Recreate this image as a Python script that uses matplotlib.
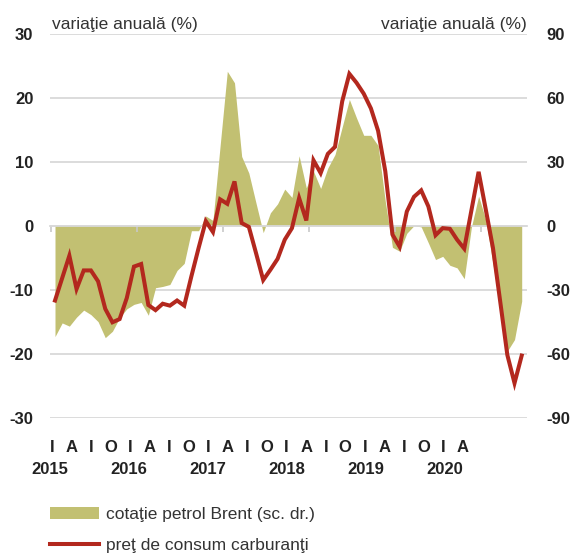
import matplotlib
matplotlib.use("Agg")
import matplotlib.pyplot as plt
import numpy as np

plt.rcParams['font.family'] = ['Liberation Sans', 'DejaVu Sans']
plt.rcParams['axes.unicode_minus'] = False

# Monthly data, Jan 2015 - Jun 2020
months = np.arange(66)

# pret de consum carburanti, variatie anuala (%) - scala stanga
fuel = [-11.7, -8.2, -4.7, -9.9, -7.0, -7.0, -8.7, -13.0, -15.1, -14.6, -11.3, -6.4,
        -6.0, -12.4, -13.2, -12.2, -12.5, -11.7, -12.5, -7.9, -3.5, 0.7, -1.0, 4.1,
        3.4, 6.9, 0.4, -0.2, -4.3, -8.5, -6.9, -5.2, -2.2, -0.4, 4.3, 0.8,
        10.2, 8.2, 11.2, 12.3, 19.4, 23.7, 22.3, 20.6, 18.3, 14.8, 8.5, -1.4,
        -3.3, 2.2, 4.5, 5.5, 3.0, -1.5, -0.4, -0.5, -2.2, -3.6, 2.4, 8.4,
        2.5, -3.5, -11.8, -20.2, -24.6, -20.3]

# cotatie petrol Brent, variatie anuala (%) - scala dreapta
brent = [-52.0, -45.6, -47.1, -42.9, -39.6, -41.7, -45.0, -52.5, -49.5, -43.2, -39.0, -36.9,
         -36.0, -42.0, -29.1, -28.5, -27.6, -21.0, -17.7, -2.4, -2.4, 4.5, 2.4, 37.5,
         72.3, 66.9, 32.4, 24.6, 10.5, -3.3, 6.0, 10.2, 17.1, 13.2, 32.7, 17.7,
         25.5, 17.4, 27.0, 33.3, 46.2, 59.1, 50.4, 42.3, 42.3, 37.5, 11.4, -10.2,
         -12.0, -3.6, 0.0, -0.6, -8.1, -15.9, -14.4, -18.6, -19.8, -24.9, -0.6, 13.8,
         2.7, -18.0, -39.0, -58.8, -53.4, -35.4]

left_ticks = [-30, -20, -10, 0, 10, 20, 30]
right_ticks = [-90, -60, -30, 0, 30, 60, 90]
quarter_labels = ['I', 'A', 'I', 'O'] * 5 + ['I', 'A']
year_labels = ['2015', '2016', '2017', '2018', '2019', '2020']

olive = '#C2C072'
red = '#B3281E'
grid_col = '#D9D9D9'
txt_col = '#222222'

W, H = 572, 556
fig = plt.figure(figsize=(W / 100, H / 100), dpi=100)
ax = fig.add_axes([50 / W, 1 - 417.7 / H, 477 / W, 384.2 / H])
ax2 = ax.twinx()
ax.set_zorder(2)
ax2.set_zorder(1)
ax.patch.set_visible(False)

px_month = 7.18
ax.set_xlim(-5 / px_month, 472 / px_month)
ax.set_ylim(-30, 30)
ax2.set_ylim(-90, 90)

# Brent area (right scale)
area = ax2.fill_between(months, 0, brent, color=olive, linewidth=0, zorder=2,
                        label='cotaţie petrol Brent (sc. dr.)')
ax2.set_yticks(right_ticks)
ax2.yaxis.grid(True, color=grid_col, linewidth=1.3, zorder=0)
ax2.set_axisbelow(True)

# fuel price line (left scale)
line, = ax.plot(months, fuel, color=red, linewidth=2.9, zorder=4,
                solid_joinstyle='miter', label='preţ de consum carburanţi')
ax.set_yticks(left_ticks)

for a in (ax, ax2):
    for s in ('top', 'left', 'right'):
        a.spines[s].set_visible(False)
    a.tick_params(axis='y', length=0, labelsize=12, labelcolor=txt_col)
ax2.spines['bottom'].set_visible(False)
ax.tick_params(axis='y', pad=12)
ax2.tick_params(axis='y', pad=14)
for lab in ax.get_yticklabels() + ax2.get_yticklabels():
    lab.set_fontweight('bold')

# zero line with yearly tick marks
ax.spines['bottom'].set_position(('data', 0))
ax.spines['bottom'].set_color(grid_col)
ax.spines['bottom'].set_linewidth(1.3)
ax.set_xticks([-0.6 + 12 * k for k in range(6)])
ax.tick_params(axis='x', direction='out', length=4.5, width=1.2, color='#C8C8C8',
               labelbottom=False)

# quarter and year labels
for k, q in enumerate(quarter_labels):
    fig.text((52 + 19.55 * k) / W, 1 - 447 / H, q, ha='center', va='center',
             fontsize=12, fontweight='bold', color=txt_col)
for k, y in enumerate(year_labels):
    fig.text((50 + 79 * k) / W, 1 - 470 / H, y, ha='center', va='center',
             fontsize=12, fontweight='bold', color=txt_col)

# axis titles
fig.text(52 / W, 1 - 25 / H, 'variaţie anuală (%)', ha='left', va='center',
         fontsize=12.5, color='#333333')
fig.text(527 / W, 1 - 25 / H, 'variaţie anuală (%)', ha='right', va='center',
         fontsize=12.5, color='#333333')

fig.legend(handles=[area, line], loc='upper left', bbox_to_anchor=(50 / W, 1 - 507 / H),
           frameon=False, fontsize=12.5, handlelength=2.8, handletextpad=0.4,
           borderpad=0, borderaxespad=0, labelspacing=0.9, labelcolor='#333333')

fig.savefig('out.png', dpi=100)
